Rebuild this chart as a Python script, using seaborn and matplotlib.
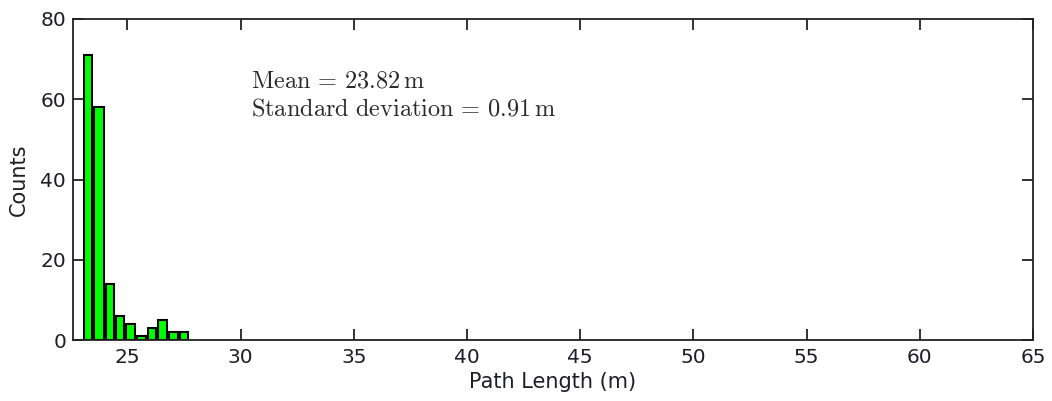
import numpy as np
import pandas as pd
import matplotlib
matplotlib.use("Agg")
import matplotlib.pyplot as plt
import seaborn as sns

# Data
bin_centers = [23.28, 23.71, 24.24, 24.68, 25.11, 25.61, 26.09, 26.54, 27.05, 27.51]
counts = [71, 58, 14, 6, 4, 1, 3, 5, 2, 2]
x_ticks = [25, 30, 35, 40, 45, 50, 55, 60, 65]
y_ticks = [0, 20, 40, 60, 80]
annot_lines = [r"$\mathrm{Mean}\,=\,23.82\,\mathrm{m}$",
               r"$\mathrm{Standard\ deviation}\,=\,0.91\,\mathrm{m}$"]

sns.set_theme(style="ticks")
plt.rcParams["font.family"] = ["DejaVu Sans"]
plt.rcParams["mathtext.fontset"] = "cm"

fig = plt.figure(figsize=(10.52, 4.01), dpi=100)
ax = fig.add_axes([73 / 1052, 1 - 340 / 401, (1033 - 73) / 1052, (340 - 19) / 401])

df = pd.DataFrame({"x": bin_centers, "n": counts})
c = np.array(bin_centers)
w = float(np.mean(np.diff(c)))
edges = [float(v) for v in np.concatenate([c - w / 2, [c[-1] + w / 2]])]

sns.histplot(data=df, x="x", weights="n", bins=edges, shrink=0.8,
             color="#00ff00", edgecolor="black", linewidth=1.5, alpha=1,
             ax=ax)

ax.set_xlim(22.6, 65)
ax.set_ylim(0, 80)
ax.set_xticks(x_ticks)
ax.set_yticks(y_ticks)
ax.tick_params(direction="in", top=True, right=True, length=8, width=1.3,
               labelsize=14.5, colors="#222222", labelcolor="#1e1e2a", pad=6)
ax.tick_params(axis="y", pad=5)
for s in ax.spines.values():
    s.set_visible(True)
    s.set_linewidth(1.3)
    s.set_color("#222222")

ax.set_xlabel("Path Length (m)", fontsize=15, color="#1e1e2a", labelpad=3)
ax.set_ylabel("Counts", fontsize=15, color="#1e1e2a", labelpad=8)

ax.text(30.45, 63.0, annot_lines[0], fontsize=17.5, color="#2a2a2a", va="baseline")
ax.text(30.45, 55.9, annot_lines[1], fontsize=17.5, color="#2a2a2a", va="baseline")

fig.savefig("out.png", dpi=100)
